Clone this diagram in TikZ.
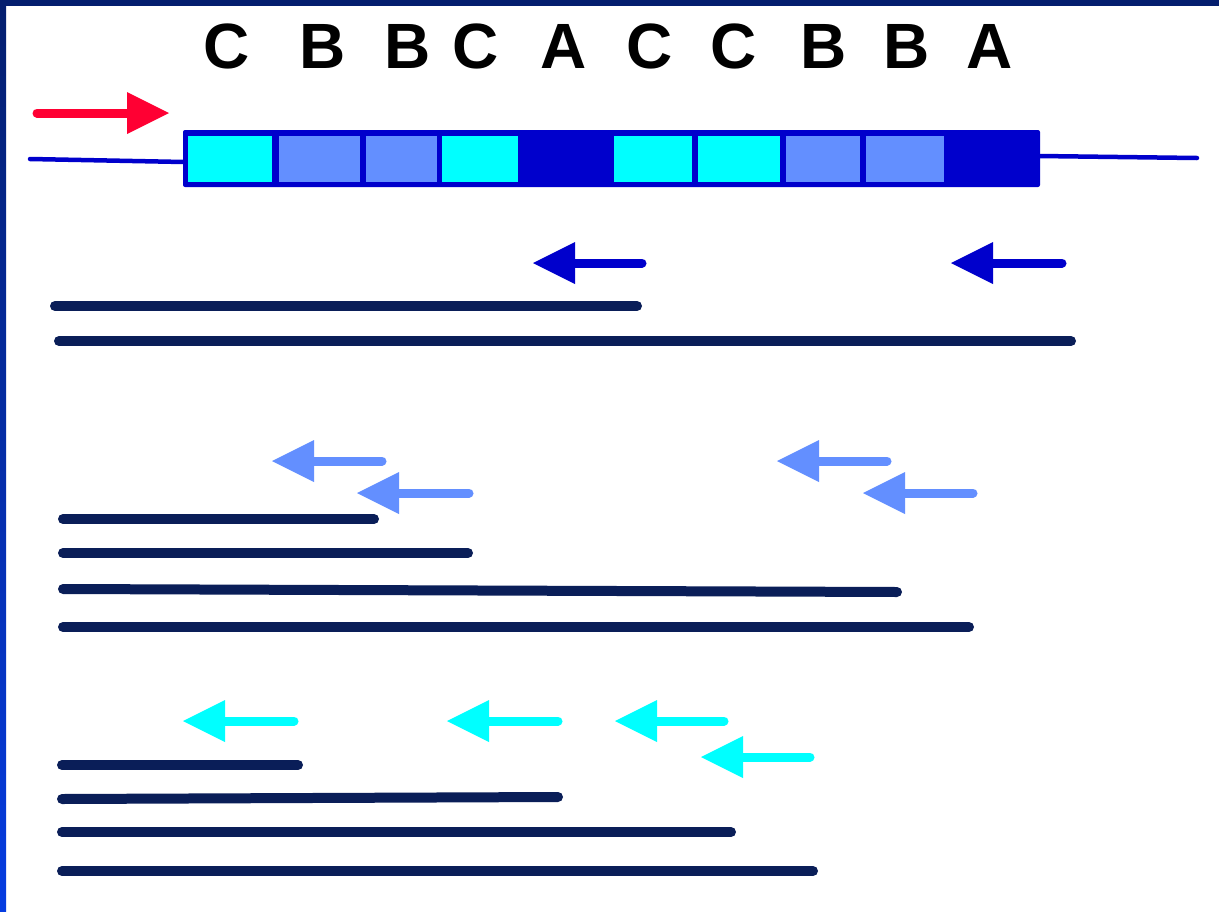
\documentclass[tikz,border=0pt]{standalone}
\usepackage{fontspec}
\setmainfont{Liberation Sans}
\usetikzlibrary{calc}

\definecolor{framenavy}{RGB}{4,30,110}
\definecolor{framebright}{RGB}{5,60,225}
\definecolor{barblue}{RGB}{0,0,204}
\definecolor{cellcyan}{RGB}{0,255,255}
\definecolor{cellmid}{RGB}{99,143,255}
\definecolor{strand}{RGB}{10,30,88}
\definecolor{primred}{RGB}{255,0,51}

\tikzset{
  shaft/.style={draw=#1, line width=9pt, line cap=round},
  strandline/.style={draw=strand, line width=10pt, line cap=round},
  flank/.style={draw=barblue, line width=4.5pt, line cap=round},
  label/.style={font=\fontsize{64}{64}\selectfont\bfseries, anchor=base, inner sep=0pt},
}

% primer arrow: colour, tail coordinate, tip coordinate (head length 42, width 42)
\newcommand\primerleft[3]{%
  \draw[shaft=#1] (#2) -- ($(#3)+(40,0)$);
  \fill[#1] (#3) -- ($(#3)+(42,-21)$) -- ($(#3)+(42,21)$) -- cycle;}
\newcommand\primerright[3]{%
  \draw[shaft=#1] (#2) -- ($(#3)+(-40,0)$);
  \fill[#1] (#3) -- ($(#3)+(-42,-21)$) -- ($(#3)+(-42,21)$) -- cycle;}

\begin{document}
\begin{tikzpicture}[x=1pt,y=-1pt]
\useasboundingbox (0,0) rectangle (1219,911);
\fill[white] (0,0) rectangle (1219,911);

% frame
\fill[framenavy] (0,0) rectangle (1219,6);
\shade[top color=framenavy, bottom color=framebright] (0,0) rectangle (6,911);

% repeat labels
\foreach \x/\t [count=\i] in {227/C,323/B,408/B,476/C,564/A,650/C,734/C,824/B,907/B,990/A}{
  \node[label] (lab\i) at (\x,68) {\t};
}

% flanking sequence
\coordinate (fl1) at (30,159);
\coordinate (fl2) at (184,162);
\coordinate (fr1) at (1039,156);
\coordinate (fr2) at (1197,158);
\draw[flank] (fl1) -- (fl2);
\draw[flank] (fr1) -- (fr2);

% repeat array
\fill[barblue, rounded corners=2pt] (183,130) rectangle (1040,187);
\foreach \a/\b/\c in {188/272/cellcyan, 279/360/cellmid, 366/437/cellmid,
                      442/518/cellcyan, 614/692/cellcyan, 698/780/cellcyan,
                      786/860/cellmid, 866/944/cellmid}{
  \fill[\c] (\a,136) rectangle (\b,182);
}

% forward primer
\coordinate (fwdA) at (37,113);
\coordinate (fwdB) at (169,113);
\primerright{primred}{fwdA}{fwdB}

% reverse primers on repeat A
\coordinate (ra1) at (642,263); \coordinate (ra1t) at (533,263);
\coordinate (ra2) at (1062,263); \coordinate (ra2t) at (951,263);
\primerleft{barblue}{ra1}{ra1t}
\primerleft{barblue}{ra2}{ra2t}

\coordinate (sa1) at (55,306); \coordinate (sa1e) at (637,306);
\coordinate (sa2) at (59,341); \coordinate (sa2e) at (1071,341);
\draw[strandline] (sa1) -- (sa1e);
\draw[strandline] (sa2) -- (sa2e);

% reverse primers on repeat B
\coordinate (rb1) at (382,461); \coordinate (rb1t) at (272,461);
\coordinate (rb2) at (469,493); \coordinate (rb2t) at (357,493);
\coordinate (rb3) at (887,461); \coordinate (rb3t) at (777,461);
\coordinate (rb4) at (973,493); \coordinate (rb4t) at (863,493);
\primerleft{cellmid}{rb1}{rb1t}
\primerleft{cellmid}{rb2}{rb2t}
\primerleft{cellmid}{rb3}{rb3t}
\primerleft{cellmid}{rb4}{rb4t}

\coordinate (sb1) at (63,519); \coordinate (sb1e) at (374,519);
\coordinate (sb2) at (63,553); \coordinate (sb2e) at (468,553);
\coordinate (sb3) at (63,589); \coordinate (sb3e) at (897,592);
\coordinate (sb4) at (63,627); \coordinate (sb4e) at (969,627);
\draw[strandline] (sb1) -- (sb1e);
\draw[strandline] (sb2) -- (sb2e);
\draw[strandline] (sb3) -- (sb3e);
\draw[strandline] (sb4) -- (sb4e);

% reverse primers on repeat C
\coordinate (rc1) at (294,721); \coordinate (rc1t) at (183,721);
\coordinate (rc2) at (558,721); \coordinate (rc2t) at (447,721);
\coordinate (rc3) at (724,721); \coordinate (rc3t) at (615,721);
\coordinate (rc4) at (810,757); \coordinate (rc4t) at (701,757);
\primerleft{cellcyan}{rc1}{rc1t}
\primerleft{cellcyan}{rc2}{rc2t}
\primerleft{cellcyan}{rc3}{rc3t}
\primerleft{cellcyan}{rc4}{rc4t}

\coordinate (sc1) at (62,765); \coordinate (sc1e) at (298,765);
\coordinate (sc2) at (62,799); \coordinate (sc2e) at (558,797);
\coordinate (sc3) at (62,832); \coordinate (sc3e) at (731,832);
\coordinate (sc4) at (62,871); \coordinate (sc4e) at (813,871);
\draw[strandline] (sc1) -- (sc1e);
\draw[strandline] (sc2) -- (sc2e);
\draw[strandline] (sc3) -- (sc3e);
\draw[strandline] (sc4) -- (sc4e);
\end{tikzpicture}
\end{document}
